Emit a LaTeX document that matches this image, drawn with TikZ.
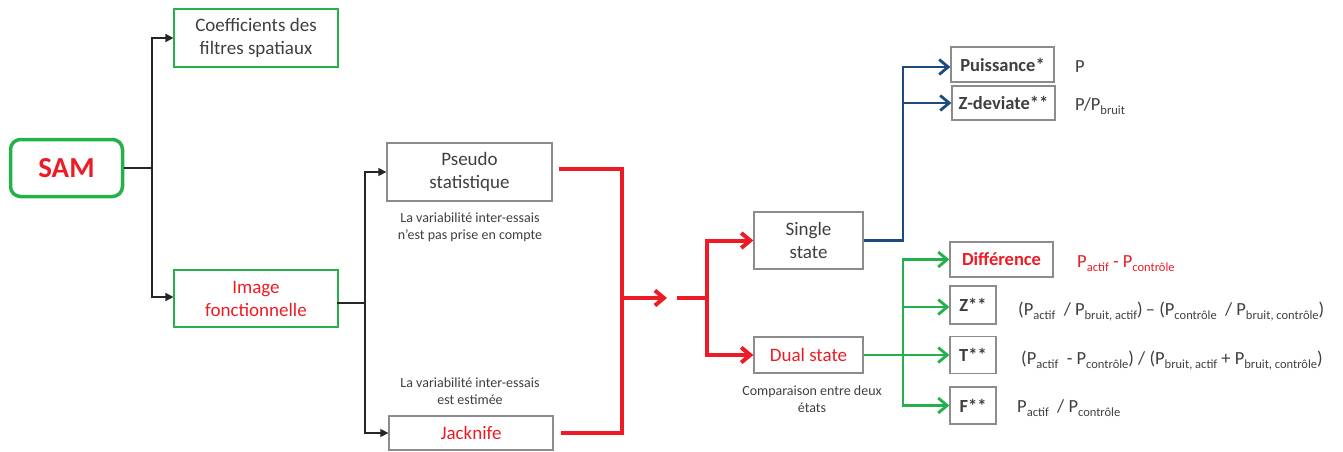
\documentclass[tikz,border=0pt]{standalone}
\usepackage{fontspec}
\setmainfont{Carlito}
\usetikzlibrary{arrows.meta}
\definecolor{txt}{HTML}{3F3F3F}
\definecolor{myred}{HTML}{ED1C24}
\definecolor{mygreen}{HTML}{22B14C}
\definecolor{myblue}{HTML}{1F4A7D}
\definecolor{mygray}{HTML}{8C8C8C}
\definecolor{blk}{HTML}{262626}
\newcommand\sbx[1]{\raisebox{-4pt}{\fontsize{12.5}{12.5}\selectfont #1}}
\tikzset{
  box/.style={draw=mygray, line width=1.3pt, text=txt, align=center, inner sep=0pt,
    font=\fontsize{19}{23}\selectfont},
  gbox/.style={box, draw=mygreen, line width=1.1pt},
  bbox/.style={box, font=\fontsize{18.5}{22}\selectfont\bfseries},
  capt/.style={text=txt, align=center, font=\fontsize{14}{17}\selectfont, inner sep=0pt},
  form/.style={text=txt, anchor=base west, inner sep=0pt, font=\fontsize{18.5}{22}\selectfont},
  blkline/.style={draw=blk, line width=1.5pt, -{Triangle[length=8pt,width=8pt]}},
  redline/.style={draw=myred, line width=4pt, line join=miter},
  bluline/.style={draw=myblue, line width=2.8pt, line join=miter},
  grnline/.style={draw=mygreen, line width=2.8pt, line join=miter},
  barb/.style={-{Straight Barb[length=9pt,width=15pt,line join=miter]}},
}
\begin{document}
\begin{tikzpicture}[x=1pt,y=-1pt]
\useasboundingbox (0,0) rectangle (1343,452);
% nodes
\node[draw=mygreen, line width=3.5pt, rounded corners=10pt, minimum width=112pt, minimum height=57pt,
  text=myred, font=\fontsize{29}{30}\selectfont\bfseries] (sam) at (66.5,168) {SAM};
\node[gbox, minimum width=164pt, minimum height=58pt] (coef) at (256,38) {Coefficients des\\filtres spatiaux};
\node[gbox, minimum width=164pt, minimum height=57pt, text=myred] (img) at (256,298.5) {Image\\fonctionnelle};
\node[box, minimum width=165pt, minimum height=58pt] (pseudo) at (469.5,172) {Pseudo\\statistique};
\node[box, minimum width=164pt, minimum height=34pt, text=myred] (jack) at (471,433) {Jacknife};
\node[capt] (cap1) at (470,227.5) {La variabilité inter-essais\\n’est pas prise en compte};
\node[capt] (cap2) at (470,391.5) {La variabilité inter-essais\\est estimée};
\node[box, minimum width=109pt, minimum height=57pt] (single) at (808.5,240.5) {Single\\state};
\node[box, minimum width=109pt, minimum height=36pt, text=myred] (dual) at (808.5,355) {Dual state};
\node[capt] (cap3) at (812,399) {Comparaison entre deux\\états};
\node[bbox, minimum width=103pt, minimum height=35pt] (puis) at (1002.5,64.5) {Puissance*};
\node[bbox, minimum width=103pt, minimum height=34pt] (zdev) at (1003.5,103) {Z-deviate**};
\node[bbox, minimum width=103pt, minimum height=35pt, text=myred] (diff) at (1001.5,259.5) {Différence};
\node[bbox, minimum width=46pt, minimum height=38pt] (zz) at (973,305) {Z**};
\node[bbox, minimum width=46pt, minimum height=37pt] (tt) at (973,355) {T**};
\node[bbox, minimum width=46pt, minimum height=37pt] (ff) at (973,405.5) {F**};
% formulas
\node[form] (fp) at (1075,72) {P};
\node[form] (fz) at (1075,110) {P/P\sbx{bruit}};
\node[form, text=myred] (fd) at (1077,267) {P\sbx{actif} - P\sbx{contrôle}};
\node[form] (fzz) at (1018,315) {(P\sbx{actif}\ \ / P\sbx{bruit, actif})\,– (P\sbx{contrôle}\ \ / P\sbx{bruit, contrôle})};
\node[form] (ftt) at (1021,364) {(P\sbx{actif}\ \ - P\sbx{contrôle}) / (P\sbx{bruit, actif} + P\sbx{bruit, contrôle})};
\node[form] (fff) at (1017,412) {P\sbx{actif}\ \ / P\sbx{contrôle}};
% black connectors
\coordinate (bj1) at (152,168);
\draw[blkline] (sam.east) -- (bj1) |- (coef.west);
\draw[blkline] (bj1) |- ([yshift=1.5pt]img.west);
\coordinate (imgout) at ([xshift=-2pt,yshift=-4.5pt]img.east);
\coordinate (bj2) at (365,303);
\draw[blkline] (imgout) -- (bj2) |- (pseudo.west);
\draw[blkline] (bj2) |- (jack.west);
% red connectors
\coordinate (rj) at (622,298);
\draw[redline] ([xshift=6pt,yshift=3pt]pseudo.east) -| (rj) |- ([xshift=7pt]jack.east);
\coordinate (rtip) at (667,298);
\draw[redline, barb] (rj) -- (rtip);
\coordinate (rstart) at (677,298);
\coordinate (rj2) at (707,298);
\draw[redline] (rstart) -- (rj2);
\draw[redline, barb] (rj2) |- (single.west);
\draw[redline, barb] (rj2) |- (dual.west);
% blue connectors
\coordinate (bj) at (903,240.5);
\draw[bluline, barb] (single.east) -- (bj) |- ([yshift=-2.5pt]puis.west);
\draw[bluline, barb] (bj) |- (zdev.west);
% green connectors
\coordinate (gj) at (903,355);
\draw[grnline, barb] (dual.east) -- (gj) |- (diff.west);
\draw[grnline, barb] (gj) |- (ff.west);
\draw[grnline, barb] (gj) |- ([yshift=-2pt]zz.west);
\draw[grnline, barb] (gj) -- (tt.west);
\end{tikzpicture}
\end{document}
